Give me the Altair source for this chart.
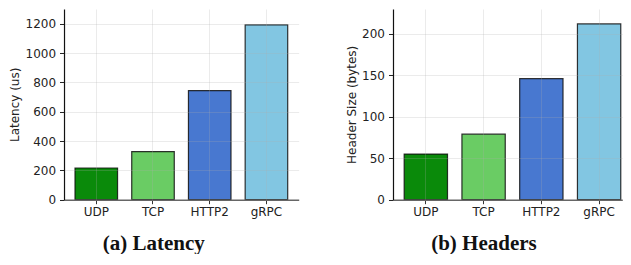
import altair as alt
import pandas as pd

protocols = ["UDP", "TCP", "HTTP2", "gRPC"]
latency = [216, 328, 744, 1192]
headers = [55, 79, 146, 212]
colors = ["#0a8a0a", "#6acc64", "#4878d0", "#82c6e2"]

df = pd.DataFrame({"protocol": protocols, "latency": latency, "headers": headers})

LABEL_FONT = "DejaVu Sans"
LS = 12


def panel(field, ytitle, domain_max, ticks, title, width, pad_outer, align):
    return (
        alt.Chart(df)
        .mark_bar(stroke="#111111", strokeWidth=1.2, strokeOpacity=0.85)
        .encode(
            x=alt.X(
                "protocol:N",
                sort=protocols,
                scale=alt.Scale(paddingInner=0.25, paddingOuter=pad_outer, align=align),
                axis=alt.Axis(
                    title=None, labelAngle=0, grid=True, gridColor="#b0b0b0",
                    gridOpacity=0.25, domainColor="#666666", domainWidth=1.5,
                    tickColor="#333333", tickSize=4, labelPadding=3,
                    labelFont=LABEL_FONT, labelFontSize=LS, labelColor="#222222",
                    zindex=1,
                ),
            ),
            y=alt.Y(
                f"{field}:Q",
                scale=alt.Scale(domain=[0, domain_max], nice=False),
                axis=alt.Axis(
                    title=ytitle, values=ticks, format="d", grid=True,
                    gridColor="#b0b0b0", gridOpacity=0.25, domainColor="#111111",
                    domainWidth=1.2, tickColor="#222222", tickSize=4.5,
                    labelPadding=4, labelFont=LABEL_FONT, labelFontSize=LS,
                    labelColor="#222222", titleFont=LABEL_FONT, titleFontSize=LS,
                    titleFontWeight="normal", titleColor="#222222", titlePadding=3,
                    zindex=1,
                ),
            ),
            color=alt.Color(
                "protocol:N",
                scale=alt.Scale(domain=protocols, range=colors),
                legend=None,
            ),
        )
        .properties(
            width=width,
            height=190.7,
            title=alt.TitleParams(
                title, orient="bottom", frame="bounds", anchor="middle",
                font="Liberation Serif", fontSize=21, fontWeight="bold",
                color="#111111", offset=15,
            ),
        )
    )


left = panel("latency", "Latency (us)", 1300, [0, 200, 400, 600, 800, 1000, 1200],
             "(a) Latency", 234.7, 0.194, 0.5)
right = panel("headers", "Header Size (bytes)", 230, [0, 50, 100, 150, 200],
              "(b) Headers", 229.3, 0.11, 0.88)

chart = (
    alt.hconcat(left, right, spacing=46)
    .properties(padding={"left": 0, "top": 1, "right": 0, "bottom": 0})
    .configure_view(stroke=None)
)

chart.save("out.html", embed_options={"renderer": "svg", "actions": False})
